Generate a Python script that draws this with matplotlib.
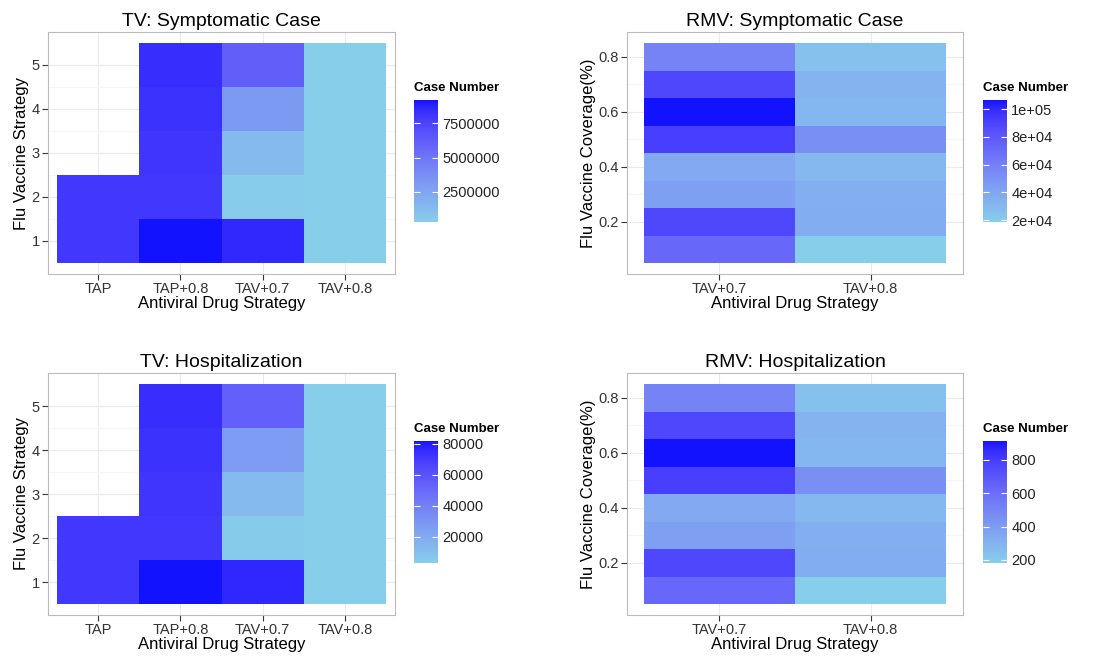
import numpy as np
import matplotlib
matplotlib.use("Agg")
import matplotlib.pyplot as plt
from matplotlib.colors import ListedColormap

plt.rcParams['font.family'] = ['Liberation Sans', 'DejaVu Sans']

# ---- data ----
tv_drugs = ['TAP', 'TAP+0.8', 'TAV+0.7', 'TAV+0.8']
tv_vacc = [1, 2, 3, 4, 5]
nan = np.nan
# rows: vaccine strategy 1..5, columns: drug strategy
tv_symp = [[8.0e6, 9.2e6, 8.6e6, 0.32e6],
           [8.0e6, 8.0e6, 0.40e6, 0.31e6],
           [nan, 8.1e6, 1.4e6, 0.31e6],
           [nan, 8.2e6, 3.1e6, 0.31e6],
           [nan, 8.4e6, 6.2e6, 0.31e6]]
tv_hosp = [[71000, 81700, 76500, 3200],
           [71000, 71000, 4500, 3140],
           [nan, 72000, 12500, 3150],
           [nan, 73000, 27000, 3150],
           [nan, 74500, 55000, 3150]]

rmv_drugs = ['TAV+0.7', 'TAV+0.8']
rmv_cov = [0.1, 0.2, 0.3, 0.4, 0.5, 0.6, 0.7, 0.8]
rmv_symp_07 = [7.2e4, 8.8e4, 4.3e4, 3.8e4, 9.2e4, 1.065e5, 8.8e4, 5.8e4]
rmv_symp_08 = [1.86e4, 3.6e4, 3.5e4, 3.0e4, 5.2e4, 3.1e4, 3.3e4, 2.6e4]
rmv_hosp_07 = [625, 758, 385, 343, 791, 911, 758, 509]
rmv_hosp_08 = [182, 326, 318, 277, 459, 285, 301, 243]

tv_symp_ticks = [2500000, 5000000, 7500000]
tv_hosp_ticks = [20000, 40000, 60000, 80000]
rmv_symp_ticks = [2e4, 4e4, 6e4, 8e4, 1e5]
rmv_symp_labels = ['2e+04', '4e+04', '6e+04', '8e+04', '1e+05']
rmv_hosp_ticks = [200, 400, 600, 800]


# skyblue -> blue gradient interpolated in Lab, like ggplot
def to_lab(rgb):
    c = np.array(rgb, float)
    c = np.where(c > 0.04045, ((c + 0.055) / 1.055) ** 2.4, c / 12.92)
    M = np.array([[0.4124, 0.3576, 0.1805], [0.2126, 0.7152, 0.0722], [0.0193, 0.1192, 0.9505]])
    xyz = M @ c / np.array([0.95047, 1.0, 1.08883])
    f = np.where(xyz > 0.008856, np.cbrt(xyz), 7.787 * xyz + 16 / 116)
    return np.array([116 * f[1] - 16, 500 * (f[0] - f[1]), 200 * (f[1] - f[2])])


def from_lab(lab):
    L, a, b = lab
    fy = (L + 16) / 116
    f = np.array([fy + a / 500, fy, fy - b / 200])
    xyz = np.where(f ** 3 > 0.008856, f ** 3, (f - 16 / 116) / 7.787) * np.array([0.95047, 1.0, 1.08883])
    Mi = np.array([[3.2406, -1.5372, -0.4986], [-0.9689, 1.8758, 0.0415], [0.0557, -0.2040, 1.0570]])
    c = Mi @ xyz
    c = np.where(c > 0.0031308, 1.055 * np.clip(c, 0, None) ** (1 / 2.4) - 0.055, 12.92 * c)
    return np.clip(c, 0, 1)


lo, hi = to_lab([135 / 255, 206 / 255, 235 / 255]), to_lab([0.07, 0.07, 1])
cmap = ListedColormap([from_lab(lo + t * (hi - lo)) for t in np.linspace(0, 1, 256)])

fig = plt.figure(figsize=(11, 6.56), dpi=100)
W, H = 1100, 656


def px(x0, y0, x1, y1):
    return [x0 / W, 1 - y1 / H, (x1 - x0) / W, (y1 - y0) / H]


def edges(c, step):
    c = np.asarray(c, float)
    return np.append(c - step / 2, c[-1] + step / 2)


def panel(rect, crect, title, xcats, ycent, ystep, z, ylim, yticks, ylabel, cticks, clabels=None):
    ax = fig.add_axes(px(*rect))
    z = np.ma.masked_invalid(np.array(z, float))
    xc = np.arange(1, len(xcats) + 1)
    # grid
    for v in xc:
        ax.axvline(v, color='#EBEBEB', lw=0.8, zorder=0)
    for v in yticks:
        ax.axhline(v, color='#EBEBEB', lw=0.8, zorder=0)
    for v in np.array(yticks[:-1]) + (yticks[1] - yticks[0]) / 2:
        ax.axhline(v, color='#F7F7F7', lw=0.8, zorder=0)
    m = ax.pcolormesh(edges(xc, 1), edges(ycent, ystep), z, cmap=cmap,
                      vmin=z.min(), vmax=z.max(), zorder=1)
    ax.set_xlim(0.39, len(xcats) + 0.61)
    ax.set_ylim(*ylim)
    ax.set_xticks(xc)
    ax.set_xticklabels(xcats)
    ax.set_yticks(yticks)
    ax.set_yticklabels([f'{v:g}' for v in yticks])
    ax.tick_params(length=4, width=0.8, color='#333333', labelsize=10.5, labelcolor='#333333', pad=2)
    for s in ax.spines.values():
        s.set_color('#BBBBBB')
    ax.set_title(title, fontsize=14, pad=4)
    ax.set_xlabel('Antiviral Drug Strategy', fontsize=12, labelpad=0)
    ax.set_ylabel(ylabel, fontsize=12, labelpad=2)

    cax = fig.add_axes(px(*crect))
    cb = fig.colorbar(m, cax=cax, ticks=cticks)
    cb.outline.set_visible(False)
    cb.set_ticklabels(clabels if clabels else [str(int(v)) for v in cticks])
    cax.tick_params(direction='in', color='white', length=4, width=0.8, left=True, right=True,
                    labelsize=10.5, labelcolor='#222222', pad=3)
    cax.text(0, 1.05, 'Case Number', transform=cax.transAxes, fontsize=9.5,
             fontweight='bold', ha='left', va='bottom')
    return ax


panel((48, 32, 395, 274), (414, 100, 438, 222), 'TV: Symptomatic Case', tv_drugs, tv_vacc, 1,
      tv_symp, (0.25, 5.75), [1, 2, 3, 4, 5], 'Flu Vaccine Strategy', tv_symp_ticks)
panel((48, 373, 395, 615), (414, 441, 438, 563), 'TV: Hospitalization', tv_drugs, tv_vacc, 1,
      tv_hosp, (0.25, 5.75), [1, 2, 3, 4, 5], 'Flu Vaccine Strategy', tv_hosp_ticks)
panel((627, 32, 963, 274), (983, 100, 1007, 222), 'RMV: Symptomatic Case', rmv_drugs, rmv_cov, 0.1,
      np.column_stack([rmv_symp_07, rmv_symp_08]), (0.01, 0.89), [0.2, 0.4, 0.6, 0.8],
      'Flu Vaccine Coverage(%)', rmv_symp_ticks, rmv_symp_labels)
panel((627, 373, 963, 615), (983, 441, 1007, 563), 'RMV: Hospitalization', rmv_drugs, rmv_cov, 0.1,
      np.column_stack([rmv_hosp_07, rmv_hosp_08]), (0.01, 0.89), [0.2, 0.4, 0.6, 0.8],
      'Flu Vaccine Coverage(%)', rmv_hosp_ticks)

fig.savefig('out.png', dpi=100)
